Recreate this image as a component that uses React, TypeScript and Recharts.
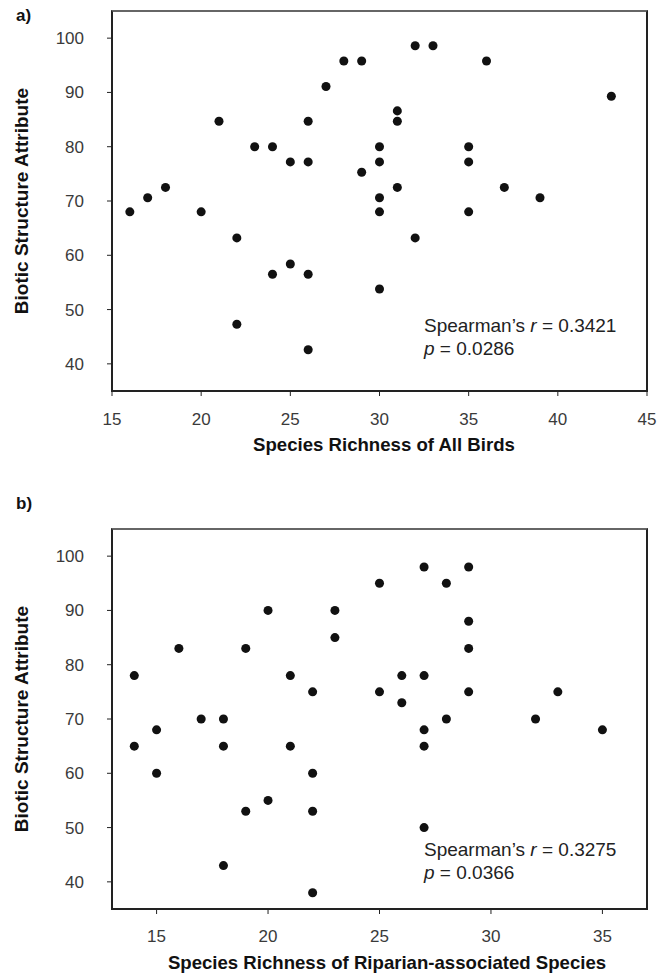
import { ScatterChart, Scatter, XAxis, YAxis } from 'recharts';

// ─── Panel a: all birds ───────────────────────────────────────────────────────
const richnessAll = [
  16, 17, 18, 20, 21, 22, 22, 23, 24, 24, 25, 25, 26, 26, 26, 26, 27, 28, 29,
  29, 30, 30, 30, 30, 30, 31, 31, 31, 32, 32, 33, 35, 35, 35, 36, 37, 39, 43,
];
const bioticA = [
  68, 70.6, 72.5, 68, 84.7, 63.2, 47.3, 80, 80, 56.5, 77.2, 58.4, 77.2, 84.7,
  56.5, 42.6, 91.1, 95.8, 95.8, 75.3, 80, 77.2, 70.6, 68, 53.8, 86.6, 84.7,
  72.5, 98.6, 63.2, 98.6, 80, 77.2, 68, 95.8, 72.5, 70.6, 89.3,
];
const ticksXA = [15, 20, 25, 30, 35, 40, 45];

// ─── Panel b: riparian-associated species ─────────────────────────────────────
const richnessRip = [
  14, 14, 15, 15, 16, 17, 18, 18, 18, 19, 19, 20, 20, 21, 21, 22, 22, 22, 22,
  23, 23, 25, 25, 26, 26, 27, 27, 27, 27, 27, 28, 28, 29, 29, 29, 29, 32, 33, 35,
];
const bioticB = [
  78, 65, 68, 60, 83, 70, 70, 65, 43, 83, 53, 90, 55, 78, 65, 75, 60, 53, 38,
  90, 85, 95, 75, 78, 73, 98, 78, 68, 65, 50, 95, 70, 98, 88, 83, 75, 70, 75, 68,
];
const ticksXB = [15, 20, 25, 30, 35];

const ticksY = [40, 50, 60, 70, 80, 90, 100];
const yDomain: [number, number] = [35, 105];

const tickStyle = { fontSize: 17, fill: '#3a3a3a', fontFamily: '"Liberation Sans", Arial, sans-serif' };
const axisDark = { stroke: '#222', strokeWidth: 1.5 };

// plot box geometry shared by both panels
const CHART_W = 665;
const AXIS_W = 112;
const RIGHT = 18;

interface PanelProps {
  xs: number[];
  ys: number[];
  xDomain: [number, number];
  xTicks: number[];
  height: number;
  top: number;
  xAxisHeight: number;
  xTickMargin: number;
}

function Panel({ xs, ys, xDomain, xTicks, height, top, xAxisHeight, xTickMargin }: PanelProps) {
  const data = xs.map((x, i) => ({ x, y: ys[i] }));
  return (
    <div style={{ position: 'relative', width: CHART_W, height }}>
      <ScatterChart
        width={CHART_W}
        height={height}
        margin={{ top, right: RIGHT, left: 0, bottom: 0 }}
      >
        <XAxis
          type="number"
          dataKey="x"
          domain={xDomain}
          ticks={xTicks}
          allowDataOverflow
          height={xAxisHeight}
          tick={tickStyle}
          tickSize={5}
          tickMargin={xTickMargin}
          axisLine={axisDark}
          tickLine={{ stroke: '#222' }}
        />
        <YAxis
          type="number"
          dataKey="y"
          domain={yDomain}
          ticks={ticksY}
          allowDataOverflow
          width={AXIS_W}
          tick={tickStyle}
          tickSize={5}
          tickMargin={23}
          axisLine={axisDark}
          tickLine={{ stroke: '#222' }}
        />
        <Scatter data={data} fill="#111" isAnimationActive={false} />
      </ScatterChart>
      {/* frame round the plot box (left/bottom sit on the axis lines) */}
      <div
        style={{
          position: 'absolute',
          left: AXIS_W - 1,
          top: top - 1,
          width: CHART_W - AXIS_W - RIGHT + 2,
          height: height - top - xAxisHeight + 2,
          border: '2px solid #222',
          borderTopColor: '#666',
          boxSizing: 'border-box',
        }}
      />
    </div>
  );
}

const titleFont = '"Liberation Sans", Arial, sans-serif';

function YTitle({ cy }: { cy: number }) {
  return (
    <div
      style={{
        position: 'absolute',
        left: 22,
        top: cy,
        transform: 'translate(-50%, -50%) rotate(-90deg)',
        whiteSpace: 'nowrap',
        fontFamily: titleFont,
        fontWeight: 'bold',
        fontSize: 19,
        color: '#111',
      }}
    >
      Biotic Structure Attribute
    </div>
  );
}

function XTitle({ cx, cy, text }: { cx: number; cy: number; text: string }) {
  return (
    <div
      style={{
        position: 'absolute',
        left: cx,
        top: cy,
        transform: 'translate(-50%, -50%)',
        whiteSpace: 'nowrap',
        fontFamily: titleFont,
        fontWeight: 'bold',
        fontSize: 18.6,
        color: '#111',
      }}
    >
      {text}
    </div>
  );
}

function Stats({ top, r, p }: { top: number; r: string; p: string }) {
  return (
    <div
      style={{
        position: 'absolute',
        left: 424,
        top,
        fontFamily: titleFont,
        fontSize: 19,
        lineHeight: '23px',
        color: '#222',
        whiteSpace: 'nowrap',
      }}
    >
      <div>
        Spearman’s <i>r</i> = {r}
      </div>
      <div>
        <i>p</i> = {p}
      </div>
    </div>
  );
}

function PanelLetter({ top, text }: { top: number; text: string }) {
  return (
    <div
      style={{
        position: 'absolute',
        left: 16,
        top,
        fontFamily: titleFont,
        fontWeight: 'bold',
        fontSize: 17,
        color: '#111',
      }}
    >
      {text}
    </div>
  );
}

export default function App() {
  return (
    <div style={{ position: 'absolute', left: 0, top: 0, width: 665, height: 975, background: '#fff' }}>
      <div style={{ position: 'absolute', left: 0, top: 0 }}>
        <Panel
          xs={richnessAll}
          ys={bioticA}
          xDomain={[15, 45]}
          xTicks={ticksXA}
          height={470}
          top={11}
          xAxisHeight={79}
          xTickMargin={17}
        />
      </div>
      <div style={{ position: 'absolute', left: 0, top: 470 }}>
        <Panel
          xs={richnessRip}
          ys={bioticB}
          xDomain={[13, 37]}
          xTicks={ticksXB}
          height={505}
          top={59}
          xAxisHeight={66}
          xTickMargin={16}
        />
      </div>

      <PanelLetter top={6} text="a)" />
      <PanelLetter top={494} text="b)" />
      <YTitle cy={201} />
      <YTitle cy={719} />
      <XTitle cx={384} cy={445} text="Species Richness of All Birds" />
      <XTitle cx={387} cy={963} text="Species Richness of Riparian-associated Species" />
      <Stats top={314} r="0.3421" p="0.0286" />
      <Stats top={838} r="0.3275" p="0.0366" />
    </div>
  );
}
